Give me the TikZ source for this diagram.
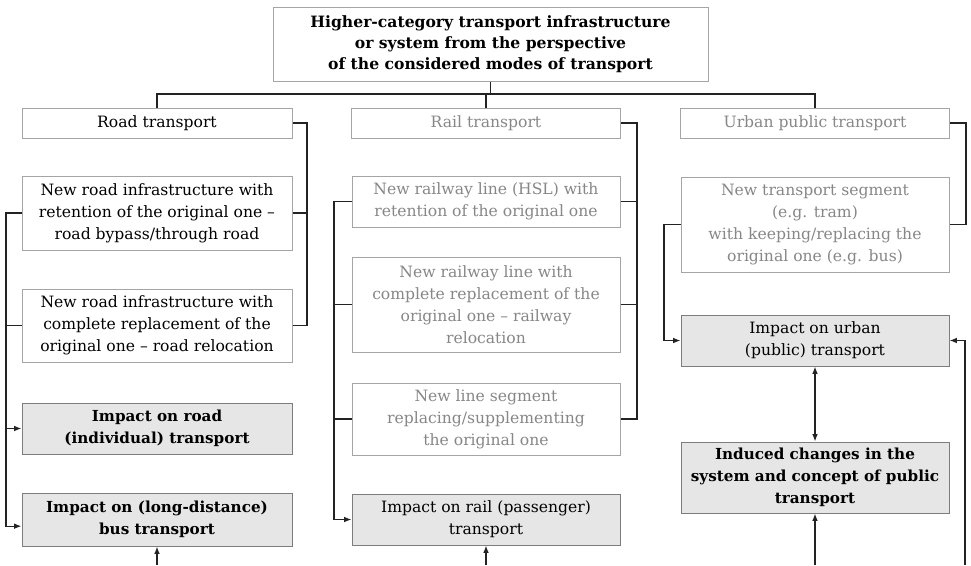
\documentclass[tikz,border=0pt]{standalone}
\usepackage{fontspec}
\setmainfont{DejaVu Serif}
\usetikzlibrary{arrows.meta}
\definecolor{boxgray}{RGB}{165,165,165}
\definecolor{txtgray}{RGB}{135,135,135}
\definecolor{impfill}{RGB}{230,230,230}
\definecolor{impborder}{RGB}{125,125,125}
\definecolor{linec}{RGB}{35,35,35}
\newcommand{\bodyf}{\fontsize{11.7}{16.4}\selectfont}
\newcommand{\boldf}{\fontsize{11.4}{16.4}\selectfont\bfseries}
\newcommand{\titlef}{\fontsize{11.7}{15.8}\selectfont\bfseries}
\begin{document}
\begin{tikzpicture}[x=0.75pt,y=-0.75pt,
  sz/.style 2 args={minimum width=#1*0.75pt, minimum height=#2*0.75pt},
  box/.style={draw=boxgray, line width=0.75pt, fill=white, align=center, inner sep=0pt, font=\bodyf, text=black},
  graybox/.style={box, text=txtgray},
  impbox/.style={box, draw=impborder, fill=impfill},
  impbold/.style={impbox, font=\boldf},
  conn/.style={draw=linec, line width=0.9pt},
  arr/.style={conn, -{Latex[length=5.5pt,width=4.2pt]}},
  darr/.style={conn, {Latex[length=5.5pt,width=4.2pt]}-{Latex[length=5.5pt,width=4.2pt]}}
]
\useasboundingbox (0,0) rectangle (971,565);

% top
\node[box, font=\titlef, sz={435}{74}] (top) at (490.5,44)
  {Higher-category transport infrastructure\\or system from the perspective\\of the considered modes of transport};

% modes
\node[box, sz={270}{30}] (road) at (157,123) {Road transport};
\node[graybox, sz={269}{30}] (rail) at (486,123) {Rail transport};
\node[graybox, sz={269}{30}] (urban) at (815,123) {Urban public transport};

% road column
\node[box, sz={270}{74}] (r1) at (157,213) {New road infrastructure with\\retention of the original one –\\road bypass/through road};
\node[box, sz={270}{73}] (r2) at (157,325.5) {New road infrastructure with\\complete replacement of the\\original one – road relocation};
\node[impbold, sz={270}{51}] (r3) at (157,428.5) {Impact on road\\(individual) transport};
\node[impbold, sz={270}{53}] (r4) at (157,519.5) {Impact on (long-distance)\\bus transport};

% rail column
\node[graybox, sz={268}{51}] (a1) at (486,201.5) {New railway line (HSL) with\\retention of the original one};
\node[graybox, sz={268}{95}] (a2) at (486,304.5) {New railway line with\\complete replacement of the\\original one – railway\\relocation};
\node[graybox, sz={268}{72}] (a3) at (486,419) {New line segment\\replacing/supplementing\\the original one};
\node[impbox, sz={268}{51}] (a4) at (486,519.5) {Impact on rail (passenger)\\transport};

% urban column
\node[graybox, sz={268}{95}] (u1) at (815,224.5) {New transport segment\\(e.g. tram)\\with keeping/replacing the\\original one (e.g. bus)};
\node[impbox, sz={268}{51}] (u2) at (815,340.5) {Impact on urban\\(public) transport};
\node[impbold, sz={268}{71}] (u3) at (815,477.5) {Induced changes in the\\system and concept of public\\transport};

% helper coordinates
\coordinate (hj) at (490,94);
\coordinate (rbr) at (307,0);
\coordinate (rbl) at (6,0);
\coordinate (abr) at (637,0);
\coordinate (abl) at (334,0);
\coordinate (ubr) at (966,0);
\coordinate (ubl) at (664,0);
\coordinate (b1) at (157,565);
\coordinate (b2) at (486,565);
\coordinate (b3) at (815,565);
\coordinate (b4) at (965,565);

% top tree
\draw[conn] (top.south) -- (top.south |- hj);
\draw[conn] (road.north) -- (road.north |- hj) -- (urban.north |- hj) -- (urban.north);
\draw[conn] (rail.north) -- (rail.north |- hj);

% road brackets
\draw[conn] (road.east) -| (rbr |- r2.east) -- (r2.east);
\draw[conn] (r1.east) -- (r1.east -| rbr);
\draw[arr] (r1.west) -| ([yshift=-5pt]rbl |- r4.west) -- ([yshift=-5pt]r4.west);
\draw[conn] (r2.west) -- (r2.west -| rbl);
\draw[arr] (rbl |- r3.west) -- (r3.west);

% rail brackets
\draw[conn] (rail.east) -| (abr |- a3.east) -- (a3.east);
\draw[conn] (a1.east) -- (a1.east -| abr);
\draw[conn] (a2.east) -- (a2.east -| abr);
\draw[arr] (a1.west) -| (abl |- a4.west) -- (a4.west);
\draw[conn] (a2.west) -- (a2.west -| abl);
\draw[conn] (a3.west) -- (a3.west -| abl);

% urban brackets
\draw[conn] (urban.east) -| (ubr |- u1.east) -- (u1.east);
\draw[arr] (u1.west) -| (ubl |- u2.west) -- (u2.west);
\draw[darr] (u2.south) -- (u3.north);
\draw[arr] (b4) |- (u2.east);

% bottom arrows
\draw[arr] (b1) -- (r4.south);
\draw[arr] (b2) -- (a4.south);
\draw[arr] (b3) -- (u3.south);
\end{tikzpicture}
\end{document}
